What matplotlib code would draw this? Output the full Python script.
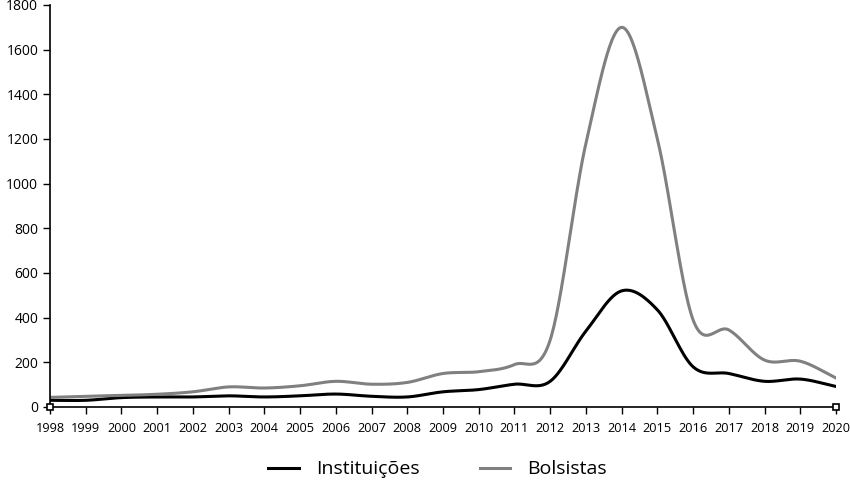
import numpy as np
import matplotlib.pyplot as plt

plt.rcParams['font.family'] = ['Open Sans', 'DejaVu Sans']

# dados
anos = list(range(1998, 2021))
instituicoes = [30, 30, 42, 45, 45, 50, 45, 50, 58, 48, 45, 68, 78, 102, 115,
                340, 520, 435, 180, 150, 115, 125, 92]
bolsistas = [43, 48, 52, 57, 68, 90, 85, 95, 115, 102, 110, 150, 158, 190, 300,
             1180, 1700, 1200, 390, 345, 210, 205, 130]


# curva suavizada (catmull-rom) como no excel
def suavizar(x, y, n=30):
    x = np.asarray(x, float)
    y = np.asarray(y, float)
    px = np.concatenate([[2 * x[0] - x[1]], x, [2 * x[-1] - x[-2]]])
    py = np.concatenate([[2 * y[0] - y[1]], y, [2 * y[-1] - y[-2]]])
    xs, ys = [], []
    t = np.linspace(0, 1, n, endpoint=False)
    for i in range(1, len(px) - 2):
        for p, out in ((px, xs), (py, ys)):
            p0, p1, p2, p3 = p[i - 1], p[i], p[i + 1], p[i + 2]
            out.extend(0.5 * (2 * p1 + (-p0 + p2) * t
                              + (2 * p0 - 5 * p1 + 4 * p2 - p3) * t ** 2
                              + (-p0 + 3 * p1 - 3 * p2 + p3) * t ** 3))
    xs.append(x[-1])
    ys.append(y[-1])
    return np.array(xs), np.array(ys)


fig = plt.figure(figsize=(8.5, 4.82), dpi=100)
ax = fig.add_axes([50 / 850, 75 / 482, 786 / 850, 402 / 482])

xi, yi = suavizar(anos, instituicoes)
xb, yb = suavizar(anos, bolsistas)
ax.plot(xi, yi, color='black', lw=2.2, label='Instituições')
ax.plot(xb, yb, color='#808080', lw=2.2, label='Bolsistas')

ax.set_xlim(1998, 2020)
ax.set_ylim(0, 1800)
ax.set_xticks(anos)
ax.set_yticks(range(0, 1801, 200))
ax.tick_params(axis='both', labelsize=10, direction='out', length=5, width=1)
ax.tick_params(axis='x', labelsize=9.2, pad=6)
for s in ['top', 'right']:
    ax.spines[s].set_visible(False)
for s in ['left', 'bottom']:
    ax.spines[s].set_linewidth(1.2)

# marcadores nas pontas do eixo
ax.plot([1998, 2020], [0, 0], 's', ms=5, mfc='white', mec='black', mew=1.2,
        clip_on=False, zorder=5)

ax.legend(loc='center', bbox_to_anchor=(0.493, -0.155), ncol=2, frameon=False,
          fontsize=14, handlelength=1.55, columnspacing=3.1, handletextpad=0.88)

plt.savefig('out.png', dpi=100)
